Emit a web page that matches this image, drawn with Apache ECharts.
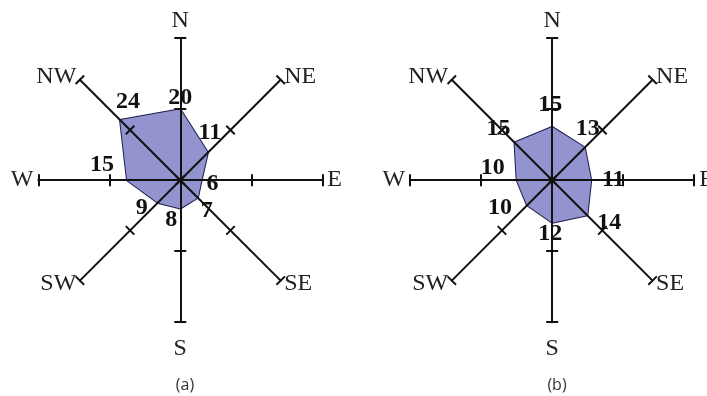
<!DOCTYPE html>
<html lang="en">
<head>
    <meta charset="UTF-8">
    <title>Wind roses</title>
    <style>
        html, body { margin: 0; padding: 0; background: #fff; }
    </style>
</head>
<body>
<div id="main" style="width: 707px;height:396px;"></div>
<script src="https://cdn.jsdelivr.net/npm/echarts@6/dist/echarts.min.js"></script>
<script>
    // compass order
    var directions = ['N', 'NE', 'E', 'SE', 'S', 'SW', 'W', 'NW'];
    var valuesA = [20, 11, 6, 7, 8, 9, 15, 24];
    var valuesB = [15, 13, 11, 14, 12, 10, 10, 15];
    var axisMax = 40;
    var captions = ['(a)', '(b)'];

    // echarts radar runs counter-clockwise from the top
    var order = [0, 7, 6, 5, 4, 3, 2, 1];
    function reorder(arr) {
        return order.map(function (i) { return arr[i]; });
    }

    // label offsets from each vertex, compass order
    var offA = [[0, -11], [2, -20], [11, 4], [9, 13], [-9, 11], [-16, 5], [-25, -15], [8, -18]];
    var offB = [[-2, -22], [3, -19], [22, 0], [22, 7], [-2, 11], [-27, 3], [-24, -12], [-16, -14]];

    var centers = [['25.5%', '45.5%'], ['78.1%', '45.5%']];
    var radius = 142;
    var serif = 'Liberation Serif';

    var indicator = reorder(directions).map(function (d) {
        return {name: d, min: 0, max: axisMax};
    });

    var radars = [];
    centers.forEach(function (c) {
        // axes + one half of the ticks
        radars.push({
            center: c, radius: radius, indicator: indicator, splitNumber: 2,
            startAngle: 90, shape: 'polygon', z: 3,
            axisName: {
                show: true, color: '#222', fontFamily: serif, fontSize: 24,
                formatter: function (name) {
                    return name === 'S' ? '{s|S}' : name;
                },
                rich: {s: {fontFamily: serif, fontSize: 24, color: '#222', padding: [10, 0, 0, 0]}}
            },
            nameGap: 5,
            axisLine: {lineStyle: {color: '#111', width: 2}},
            axisTick: {show: true, length: 6, lineStyle: {color: '#111', width: 2}},
            splitLine: {show: false},
            splitArea: {show: false}
        });
        // other half of the ticks
        radars.push({
            center: c, radius: radius, indicator: indicator, splitNumber: 2,
            startAngle: 90, shape: 'polygon', z: 3,
            axisName: {show: false},
            axisLine: {show: false},
            axisTick: {show: true, length: -6, lineStyle: {color: '#111', width: 2}},
            splitLine: {show: false},
            splitArea: {show: false}
        });
    });

    var series = [];
    [[valuesA, offA], [valuesB, offB]].forEach(function (pair, k) {
        var vals = pair[0], offs = pair[1];
        var rv = reorder(vals), ro = reorder(offs);
        series.push({
            type: 'radar',
            radarIndex: k * 2,
            z: 2,
            symbol: 'none',
            lineStyle: {color: '#1c1c4e', width: 2},
            areaStyle: {color: '#9393d0', opacity: 1},
            data: [{value: rv}]
        });
        rv.forEach(function (v, d) {
            series.push({
                type: 'radar',
                radarIndex: k * 2,
                z: 4,
                symbol: 'circle',
                symbolSize: 0.1,
                itemStyle: {color: 'rgba(0,0,0,0)'},
                lineStyle: {opacity: 0, width: 0},
                label: {
                    show: true,
                    position: 'inside',
                    offset: ro[d],
                    color: '#111',
                    fontFamily: serif,
                    fontWeight: 'bold',
                    fontSize: 24,
                    formatter: function (p) {
                        return p.dimensionIndex === d ? String(v) : '';
                    }
                },
                silent: true,
                data: [{value: rv}]
            });
        });
    });

    var myChart = echarts.init(document.getElementById('main'));
    var option = {
        backgroundColor: '#fff',
        animation: false,
        title: captions.map(function (t, i) {
            return {
                text: t,
                left: i === 0 ? 180 : 552,
                top: 372,
                textAlign: 'center',
                textStyle: {color: '#333', fontFamily: 'Open Sans', fontWeight: 'normal', fontSize: 16}
            };
        }),
        radar: radars,
        series: series
    };
    myChart.setOption(option);
</script>
</body>
</html>
